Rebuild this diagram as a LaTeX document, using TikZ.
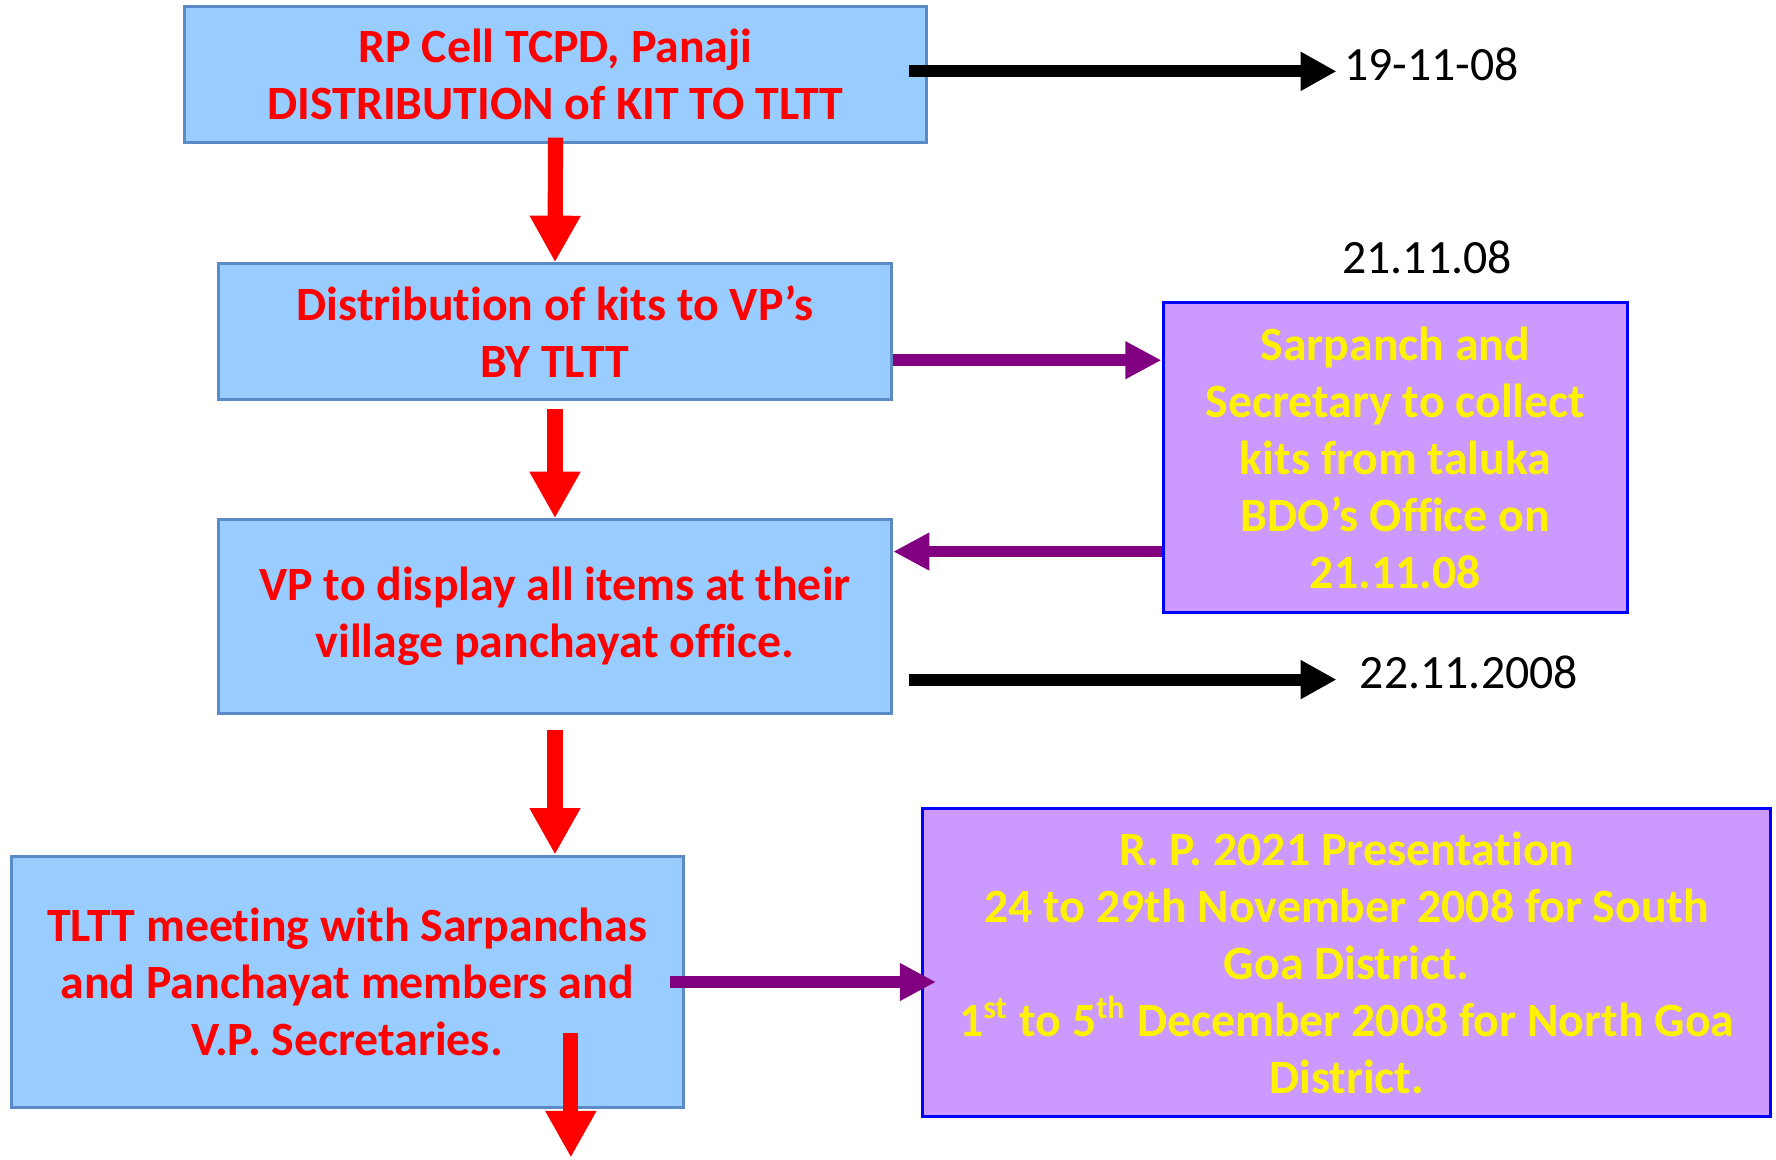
\documentclass[tikz,border=0pt]{standalone}
\usepackage{fontspec}
\setmainfont{Carlito}[Ligatures=NoCommon]
\usetikzlibrary{arrows.meta}
\definecolor{boxblue}{HTML}{99CCFF}
\definecolor{edgeblue}{HTML}{5B8BC6}
\definecolor{boxlilac}{HTML}{CC99FF}
\definecolor{linkpurple}{HTML}{800080}
\newcommand{\boxfont}{\fontsize{12}{14.3}\selectfont\bfseries}
\tikzset{
    stepbox/.style={draw=edgeblue, line width=0.8pt, fill=boxblue, text=red,
        font=\boxfont, align=center, inner sep=0pt},
    notebox/.style={draw=blue, line width=0.8pt, fill=boxlilac, text=yellow,
        font=\boxfont, align=center, inner sep=0pt},
    datelabel/.style={font=\fontsize{12}{14.3}\selectfont, inner sep=0pt},
    flowarrow/.style={draw=red, line width=3.8pt, -{Triangle[width=12pt, length=11.7pt]}},
    datearrow/.style={draw=black, line width=3pt, -{Triangle[width=9.2pt, length=9pt]}},
    linkarrow/.style={draw=linkpurple, line width=2.9pt, -{Triangle[width=8.9pt, length=9.1pt]}}
}
\begin{document}
\begin{tikzpicture}[x=0.01cm, y=-0.01cm]
    \useasboundingbox (0, 0) rectangle (1568, 1024);
    % boxes of the flow
    \node[stepbox, minimum width=6.55cm, minimum height=1.2cm] (kit) at (490.5, 66)
        {RP Cell TCPD, Panaji\\DISTRIBUTION of KIT TO TLTT};
    \node[stepbox, minimum width=5.94cm, minimum height=1.2cm] (vpdist) at (490, 293)
        {Distribution of kits to VP’s\\BY TLTT};
    \node[stepbox, minimum width=5.94cm, minimum height=1.71cm] (display) at (490, 544.5)
        {VP to display all items at their\\village panchayat office.};
    \node[stepbox, minimum width=5.93cm, minimum height=2.22cm] (meeting) at (306.5, 867)
        {TLTT meeting with Sarpanchas\\and Panchayat members and\\V.P. Secretaries.};
    \node[notebox, minimum width=4.1cm, minimum height=2.74cm] (collect) at (1232, 404)
        {Sarpanch and\\Secretary to collect\\kits from taluka\\BDO’s Office on\\21.11.08};
    \node[notebox, minimum width=7.48cm, minimum height=2.72cm] (present) at (1189, 850)
        {R. P. 2021 Presentation\\24 to 29th November 2008 for South\\Goa District.\\
         1\textsuperscript{st} to 5\textsuperscript{th} December 2008 for North Goa\\District.};
    % dates
    \node[datelabel, anchor=west] (d1) at (1186, 57) {19-11-08};
    \node[datelabel] (d2) at (1260, 227) {21.11.08};
    \node[datelabel, anchor=west] (d3) at (1200, 594) {22.11.2008};
    \coordinate (out) at (504, 1022);
    % red flow arrows
    \draw[flowarrow] ([yshift=0.06cm]kit.south) -- (vpdist.north);
    \draw[flowarrow] ([yshift=-0.07cm]vpdist.south) -- (display.north);
    \draw[flowarrow] ([yshift=-0.13cm]display.south) -- (display.south |- meeting.north);
    \draw[flowarrow] ([yshift=0.67cm]meeting.south -| out) -- (out);
    % purple links
    \draw[linkarrow] ([yshift=-0.25cm]vpdist.east) -- ([yshift=-0.25cm]vpdist.east -| collect.west);
    \draw[linkarrow] ([yshift=0.575cm]display.east -| collect.west) -- ([yshift=0.575cm]display.east);
    \draw[linkarrow] ([xshift=-0.13cm]meeting.east) -- ([xshift=0.13cm]meeting.east -| present.west);
    % black date arrows
    \draw[datearrow] ([shift={(-0.17cm, 0.03cm)}]kit.east) -- ([shift={(-0.06cm, 0.03cm)}]kit.east -| d1.west);
    \draw[datearrow] ([shift={(0.14cm, -0.06cm)}]display.east |- d3.west) -- ([shift={(-0.2cm, -0.06cm)}]d3.west);
\end{tikzpicture}
\end{document}
